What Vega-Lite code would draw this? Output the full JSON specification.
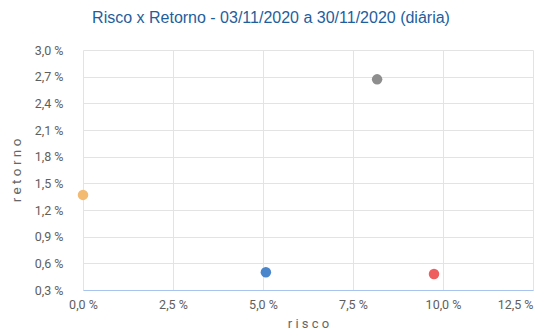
{
  "$schema": "https://vega.github.io/schema/vega-lite/v6.json",
  "width": 450,
  "height": 240,
  "autosize": "none",
  "padding": {"left": 83, "top": 50, "right": 1, "bottom": 44},
  "background": "white",
  "title": {
    "text": "Risco x Retorno - 03/11/2020 a 30/11/2020 (diária)",
    "font": "Liberation Sans",
    "fontSize": 16,
    "fontWeight": "normal",
    "color": "#1F5E9C",
    "anchor": "middle",
    "dx": -37,
    "offset": 18
  },
  "data": {
    "values": [
      {"ativo": "A", "risco": 0.0, "retorno": 1.37},
      {"ativo": "B", "risco": 5.08, "retorno": 0.5},
      {"ativo": "C", "risco": 8.17, "retorno": 2.67},
      {"ativo": "D", "risco": 9.75, "retorno": 0.48}
    ]
  },
  "mark": {"type": "circle", "size": 110, "opacity": 1},
  "encoding": {
    "x": {
      "field": "risco",
      "type": "quantitative",
      "scale": {"domain": [0, 12.5], "nice": false, "zero": false},
      "axis": {
        "title": "r i s c o",
        "values": [0, 2.5, 5, 7.5, 10, 12.5],
        "labelExpr": "replace(format(datum.value, '.1f'), '.', ',') + ' %'",
        "labelFlush": false,
        "labelBound": false,
        "labelAlign": {"expr": "datum.value >= 12.5 ? 'right' : 'center'"},
        "labelFont": "Roboto",
        "labelFontSize": 12.5,
        "labelColor": "#5E5E5E",
        "labelPadding": 8,
        "ticks": false,
        "domainColor": "#A8C4EC",
        "gridColor": "#E3E3E3",
        "titleFont": "Roboto",
        "titleFontSize": 13,
        "titleFontWeight": "normal",
        "titleColor": "#666666",
        "titlePadding": 7
      }
    },
    "y": {
      "field": "retorno",
      "type": "quantitative",
      "scale": {"domain": [0.3, 3.0], "nice": false, "zero": false},
      "axis": {
        "title": "r e t o r n o",
        "values": [0.3, 0.6, 0.9, 1.2, 1.5, 1.8, 2.1, 2.4, 2.7, 3.0],
        "labelExpr": "replace(format(datum.value, '.1f'), '.', ',') + ' %'",
        "labelFont": "Roboto",
        "labelFontSize": 12.5,
        "labelColor": "#5E5E5E",
        "labelPadding": 20,
        "ticks": false,
        "domain": false,
        "gridColor": "#E3E3E3",
        "titleFont": "Roboto",
        "titleFontSize": 13.5,
        "titleFontWeight": "normal",
        "titleColor": "#666666",
        "titlePadding": 11
      }
    },
    "color": {
      "field": "ativo",
      "type": "nominal",
      "scale": {"domain": ["A", "B", "C", "D"], "range": ["#F3BA72", "#4A86CB", "#8E8E8E", "#EE5E5E"]},
      "legend": null
    }
  },
  "config": {"view": {"stroke": null}}
}
